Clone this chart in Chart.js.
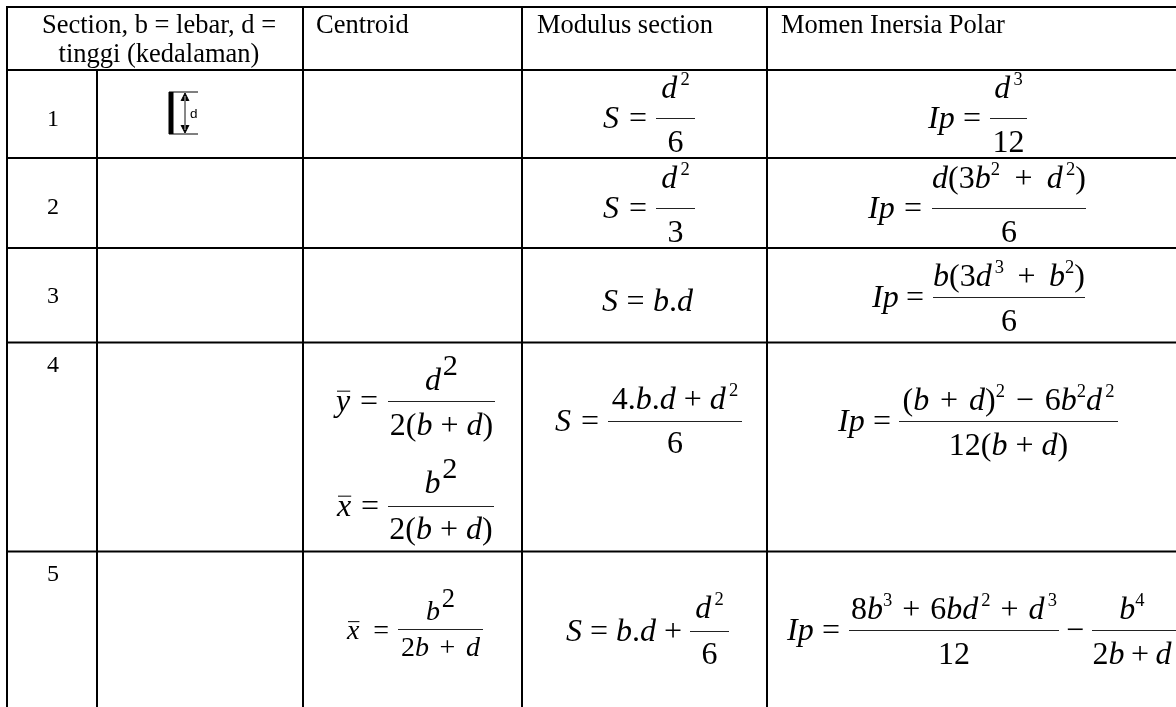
<!DOCTYPE html>
<html>
<head>
<meta charset="utf-8">
<title>Section table</title>
<script src="https://cdn.jsdelivr.net/npm/chart.js@4"></script>
<style>
  html, body { margin: 0; padding: 0; background: #fff; overflow: hidden; }
</style>
</head>
<body>
<canvas id="table" width="1176" height="707"></canvas>
<script>
const columnEdges = [7, 97, 303, 522, 767];
const rowEdges = [7, 70, 158, 248, 342.5, 551.5];
const tableRight = 1176;
const tableBottom = 707;

const headerLabels = ['Section, b = lebar, d =', 'tinggi (kedalaman)', 'Centroid', 'Modulus section', 'Momen Inersia Polar'];
const rowLabels = ['1', '2', '3', '4', '5'];

// small markup: ^x small superscript, ~x big superscript, _x overline, space is a math gap
const centroidFormulas = [
  { lhs: '_y =', num: 'd~2', den: '2(b + d)' },
  { lhs: '_x =', num: 'b~2', den: '2(b + d)' },
  { lhs: '_x =', num: 'b~2', den: '2b + d' }
];
const modulusFormulas = [
  { lhs: 'S =', num: 'd^2', den: '6' },
  { lhs: 'S =', num: 'd^2', den: '3' },
  { lhs: 'S = b.d' },
  { lhs: 'S =', num: '4.b.d + d^2', den: '6' },
  { lhs: 'S = b.d +', num: 'd^2', den: '6' }
];
const inertiaFormulas = [
  { lhs: 'Ip =', num: 'd^3', den: '12' },
  { lhs: 'Ip =', num: 'd(3b^2 + d^2)', den: '6' },
  { lhs: 'Ip =', num: 'b(3d^3 + b^2)', den: '6' },
  { lhs: 'Ip =', num: '(b + d)^2 \u2212 6b^2d^2', den: '12(b + d)' },
  { lhs: 'Ip =', num: '8b^3 + 6bd^2 + d^3', den: '12' },
  { lhs: '\u2212', num: 'b^4', den: '2b + d' }
];

// where each formula sits: left of lhs, bar from/to, bar height, baselines, font size
// nw and dw stretch the gaps of a numerator or denominator to a width, c overrides the text centre
const centroidPlaces = [
  { x: 336, x2: 378, a: 388, b: 495, bar: 401.5, n: 390, d: 435, size: 32 },
  { x: 337, x2: 379, a: 388, b: 494, bar: 506.5, n: 493, d: 539, size: 32 },
  { x: 347, x2: 389, a: 398, b: 483, bar: 629.5, n: 620, d: 656, size: 28, dw: 79 }
];
const modulusPlaces = [
  { x: 603, x2: 647, a: 656, b: 695, bar: 118.5, n: 98, d: 152, size: 32 },
  { x: 603, x2: 647, a: 656, b: 695, bar: 208.5, n: 188, d: 242, size: 32 },
  { x: 602, x2: 693, base: 311, size: 32 },
  { x: 555, x2: 599, a: 608, b: 742, bar: 421.5, n: 409, d: 453, size: 32 },
  { x: 566, x2: 682, a: 690, b: 729, bar: 631.5, n: 618, d: 664, size: 32 }
];
const inertiaPlaces = [
  { x: 928, x2: 981, a: 990, b: 1027, bar: 118.5, n: 98, d: 152, size: 32 },
  { x: 868, x2: 922, a: 932, b: 1086, bar: 208.5, n: 188, d: 242, size: 32, nw: 154 },
  { x: 872, x2: 924, a: 933, b: 1085, bar: 297.5, n: 286, d: 331, size: 32, nw: 152 },
  { x: 838, x2: 891, a: 899, b: 1118, bar: 421.5, n: 410, d: 455, size: 32, nw: 212 },
  { x: 787, x2: 840, a: 849, b: 1059, bar: 630.5, n: 619, d: 664, size: 32, nw: 206 },
  { x: 1066, x2: 1084, a: 1092, b: 1176, c: 1132, bar: 630.5, n: 619, d: 664, size: 32, dw: 79 }
];

const allFormulas = centroidFormulas.concat(modulusFormulas, inertiaFormulas);
const allPlaces = centroidPlaces.concat(modulusPlaces, inertiaPlaces);

function ruleSet(points, width, color) {
  return { data: points, showLine: true, borderColor: color, borderWidth: width, pointRadius: 0, tension: 0 };
}

function arrowSet(points) {
  const set = ruleSet(points, 1, '#000');
  set.fill = 'shape';
  set.backgroundColor = '#000';
  return set;
}

const datasets = [];
rowEdges.forEach(y => datasets.push(ruleSet([{ x: columnEdges[0] - 1, y: y }, { x: tableRight, y: y }], 2, '#000')));
columnEdges.forEach((x, i) => {
  const top = i === 1 ? rowEdges[1] : rowEdges[0];
  datasets.push(ruleSet([{ x: x, y: top }, { x: x, y: tableBottom }], 2, '#000'));
});
allPlaces.forEach(p => {
  if (p.bar) datasets.push(ruleSet([{ x: p.a, y: p.bar }, { x: p.b, y: p.bar }], 1, '#222'));
});
// little section sketch in row 1
datasets.push(ruleSet([{ x: 171, y: 92 }, { x: 171, y: 134 }], 5, '#000'));
datasets.push(ruleSet([{ x: 169, y: 92 }, { x: 198, y: 92 }], 1, '#000'));
datasets.push(ruleSet([{ x: 169, y: 134 }, { x: 198, y: 134 }], 1, '#000'));
datasets.push(ruleSet([{ x: 185, y: 96 }, { x: 185, y: 130 }], 1, '#777'));
datasets.push(arrowSet([{ x: 181, y: 101 }, { x: 185, y: 93 }, { x: 189, y: 101 }]));
datasets.push(arrowSet([{ x: 181, y: 125 }, { x: 185, y: 133 }, { x: 189, y: 125 }]));

function fontFor(kind, size) {
  const style = kind === 'i' ? 'italic ' : '';
  return style + size + 'px "Liberation Serif"';
}

function splitTokens(ctx, expr, size) {
  const tokens = [];
  for (let i = 0; i < expr.length; i++) {
    const c = expr[i];
    if (c === ' ') { tokens.push({ gap: true, w: size * 0.25 }); continue; }
    let kind = /[A-Za-z]/.test(c) ? 'i' : 'r';
    let s = size, rise = 0, over = false, ch = c, lead = 0;
    if (c === '^') {
      ch = expr[++i]; s = size * 0.58; rise = size * 0.42; kind = 'r';
      if (expr[i - 2] === 'd') lead = size * 0.1;
    }
    if (c === '~') { ch = expr[++i]; s = size * 0.95; rise = size * 0.47; kind = 'r'; lead = size * 0.06; }
    if (c === '_') { ch = expr[++i]; kind = 'i'; over = true; }
    ctx.font = fontFor(kind, s);
    tokens.push({ ch: ch, kind: kind, s: s, rise: rise, over: over, lead: lead, w: ctx.measureText(ch).width + lead });
  }
  return tokens;
}

function tokensWidth(tokens) {
  return tokens.reduce((sum, t) => sum + t.w, 0);
}

function drawExpr(ctx, expr, x, y, size, width) {
  const tokens = splitTokens(ctx, expr, size);
  if (width) {
    const gaps = tokens.filter(t => t.gap).length;
    if (gaps) {
      const extra = (width - tokensWidth(tokens)) / gaps;
      tokens.forEach(t => { if (t.gap) t.w = Math.max(1, t.w + extra); });
    }
  }
  let cx = x;
  tokens.forEach(t => {
    if (!t.gap) {
      ctx.font = fontFor(t.kind, t.s);
      ctx.fillText(t.ch, cx + (t.lead || 0), y - t.rise);
      if (t.over) ctx.fillRect(cx + 1, y - size * 0.62, t.w - 1, 1);
    }
    cx += t.w;
  });
}

function centered(ctx, expr, middle, y, size, width) {
  const w = width || tokensWidth(splitTokens(ctx, expr, size));
  drawExpr(ctx, expr, middle - w / 2, y, size, width);
}

const tableText = {
  id: 'tableText',
  afterDatasetsDraw(chart) {
    const ctx = chart.ctx;
    const px = v => chart.scales.x.getPixelForValue(v);
    const py = v => chart.scales.y.getPixelForValue(v);
    ctx.save();
    ctx.fillStyle = '#000';
    ctx.textBaseline = 'alphabetic';
    ctx.textAlign = 'left';

    ctx.font = '26.5px "Liberation Serif"';
    ctx.textAlign = 'center';
    ctx.fillText(headerLabels[0], px(159), py(33));
    ctx.fillText(headerLabels[1], px(159), py(62));
    ctx.textAlign = 'left';
    ctx.fillText(headerLabels[2], px(316), py(33));
    ctx.fillText(headerLabels[3], px(537), py(33));
    ctx.fillText(headerLabels[4], px(781), py(33));

    const labelBase = [126, 214, 303, 372, 581];
    ctx.font = '24px "Liberation Serif"';
    ctx.textAlign = 'center';
    rowLabels.forEach((l, i) => ctx.fillText(l, px(53), py(labelBase[i])));
    ctx.textAlign = 'left';

    ctx.font = '13.5px "Liberation Sans"';
    ctx.fillText('d', px(190), py(118));

    allFormulas.forEach((f, i) => {
      const p = allPlaces[i];
      const base = p.base || p.bar + 9;
      drawExpr(ctx, f.lhs, px(p.x), py(base), p.size, p.x2 - p.x);
      if (f.num) {
        const middle = p.c || (p.a + p.b) / 2;
        centered(ctx, f.num, px(middle), py(p.n), p.size, p.nw);
        centered(ctx, f.den, px(middle), py(p.d), p.size, p.dw);
      }
    });
    ctx.restore();
  }
};

new Chart(document.getElementById('table'), {
  type: 'scatter',
  data: { datasets: datasets },
  plugins: [tableText],
  options: {
    responsive: false,
    animation: false,
    layout: { padding: 0 },
    plugins: { legend: { display: false }, tooltip: { enabled: false } },
    scales: {
      x: { type: 'linear', min: 0, max: 1176, display: false },
      y: { type: 'linear', min: 0, max: 707, reverse: true, display: false }
    }
  }
});
</script>
</body>
</html>
